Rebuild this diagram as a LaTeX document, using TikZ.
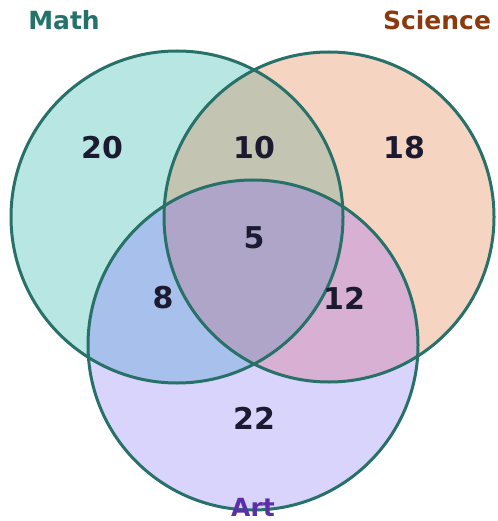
\documentclass[tikz,border=0pt]{standalone}
\usepackage{fontspec}
\setmainfont{DejaVu Sans}
\definecolor{mfill}{HTML}{B8E6E2}
\definecolor{sfill}{HTML}{F5D4C2}
\definecolor{afill}{HTML}{D9D4FC}
\definecolor{msfill}{HTML}{C4C4B2}
\definecolor{mafill}{HTML}{A8C0EC}
\definecolor{safill}{HTML}{D7B0D3}
\definecolor{allfill}{HTML}{AEA5C8}
\definecolor{edge}{HTML}{277168}
\definecolor{numc}{HTML}{1C1A30}
\definecolor{mathc}{HTML}{24736B}
\definecolor{scic}{HTML}{8B3A0F}
\definecolor{artc}{HTML}{5B2FA8}
\tikzset{
  num/.style={inner sep=0pt, text=numc, font=\fontsize{30}{30}\selectfont\bfseries},
  setlabel/.style={inner sep=0pt, font=\fontsize{25}{25}\selectfont\bfseries},
  ring/.style={draw=edge, line width=3pt}
}
\begin{document}
\begin{tikzpicture}[x=1pt,y=-1pt]
\useasboundingbox (0,0) rectangle (497,521);
\coordinate (M) at (177,217);
\coordinate (S) at (329,217);
\coordinate (A) at (253,345);
\def\rM{166pt}\def\rS{165pt}\def\rA{165pt}
\fill[mfill] (M) circle[radius=\rM];
\fill[sfill] (S) circle[radius=\rS];
\fill[afill] (A) circle[radius=\rA];
\begin{scope}
  \clip (M) circle[radius=\rM];
  \fill[msfill] (S) circle[radius=\rS];
  \fill[mafill] (A) circle[radius=\rA];
\end{scope}
\begin{scope}
  \clip (S) circle[radius=\rS];
  \fill[safill] (A) circle[radius=\rA];
  \clip (M) circle[radius=\rM];
  \fill[allfill] (A) circle[radius=\rA];
\end{scope}
\draw[ring] (M) circle[radius=\rM];
\draw[ring] (S) circle[radius=\rS];
\draw[ring] (A) circle[radius=\rA];
\node[num] (n20) at (102,148) {20};
\node[num] (n10) at (254,148) {10};
\node[num] (n18) at (404,148) {18};
\node[num] (n5) at (254,238) {5};
\node[num] (n8) at (163,298) {8};
\node[num] (n12) at (344,298) {12};
\node[num] (n22) at (254,418) {22};
\node[setlabel, text=mathc] (lmath) at (64,20) {Math};
\node[setlabel, text=scic] (lsci) at (437,20) {Science};
\node[setlabel, text=artc] (lart) at (253,507) {Art};
\end{tikzpicture}
\end{document}
